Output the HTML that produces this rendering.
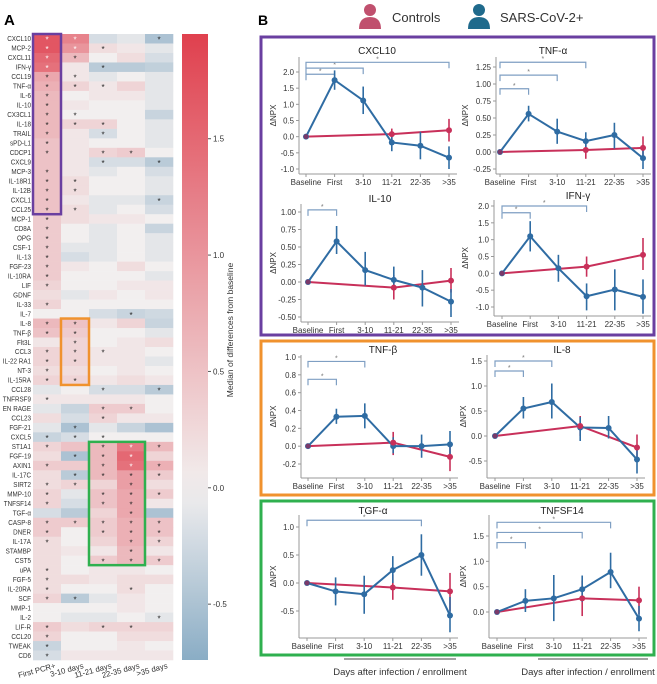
<!DOCTYPE html>
<html><head><meta charset="utf-8">
<style>
html,body{margin:0;padding:0;background:#fff;}
svg{display:block;font-family:"Liberation Sans",Arial,sans-serif;}
</style></head>
<body>
<svg id="fig" width="657" height="684" viewBox="0 0 657 684" xmlns="http://www.w3.org/2000/svg">
<text x="4" y="25" font-size="15" font-weight="bold">A</text>
<text x="258" y="25" font-size="14" font-weight="bold">B</text>
<g id="heat"></g>
<g id="cbar"></g>
<g>
  <g>
    <circle cx="370" cy="10" r="6" fill="#c0506e"/>
    <path d="M359 29 Q359 17 370 17 Q381 17 381 29 Z" fill="#c0506e"/>
    <text x="392" y="22" font-size="13" fill="#333">Controls</text>
  </g>
  <g>
    <circle cx="479" cy="10" r="6" fill="#1f6a8c"/>
    <path d="M468 29 Q468 17 479 17 Q490 17 490 29 Z" fill="#1f6a8c"/>
    <text x="500" y="22" font-size="13" fill="#333">SARS-CoV-2+</text>
  </g>
</g>
<rect x="261" y="37" width="393" height="298" fill="none" stroke="#6a3fa0" stroke-width="3"/>
<rect x="261" y="341" width="393" height="154" fill="none" stroke="#f0922e" stroke-width="3"/>
<rect x="261" y="501" width="393" height="154" fill="none" stroke="#2fb04f" stroke-width="3"/>
<g id="plots"></g>
<line x1="344" y1="659" x2="456" y2="659" stroke="#444" stroke-width="1"/>
<line x1="538" y1="659" x2="648" y2="659" stroke="#444" stroke-width="1"/>
<text x="400" y="675" font-size="9.5" text-anchor="middle" fill="#333">Days after infection / enrollment</text>
<text x="588" y="675" font-size="9.5" text-anchor="middle" fill="#333">Days after infection / enrollment</text>
</svg>
<script>
// ---------- Heatmap data ----------
const proteins = ["CXCL10","MCP-2","CXCL11","IFN-γ","CCL19","TNF-α","IL-6","IL-10","CX3CL1","IL-18","TRAIL","sPD-L1","CDCP1","CXCL9","MCP-3","IL-18R1","IL-12B","CXCL1","CCL25","MCP-1","CD8A","OPG","CSF-1","IL-13","FGF-23","IL-10RA","LIF","GDNF","IL-33","IL-7","IL-8","TNF-β","Flt3L","CCL3","IL-22 RA1","NT-3","IL-15RA","CCL28","TNFRSF9","EN RAGE","CCL23","FGF-21","CXCL5","ST1A1","FGF-19","AXIN1","IL-17C","SIRT2","MMP-10","TNFSF14","TGF-α","CASP-8","DNER","IL-17A","STAMBP","CST5","uPA","FGF-5","IL-20RA","SCF","MMP-1","IL-2","LIF-R","CCL20","TWEAK","CD6"];
const timepoints = ["First PCR+","3-10 days","11-21 days","22-35 days",">35 days"];
const medians = [
[1.7,1.2,-0.2,-0.1,-0.5],[1.7,1.0,0.2,0.1,-0.1],[1.5,0.6,0,0.2,-0.2],[1.4,0.1,-0.4,-0.4,-0.35],[0.8,0.1,-0.1,0,-0.1],
[0.7,0.3,0.1,0.3,-0.1],[0.6,0,0.1,0.1,-0.1],[0.6,0.1,0,0,-0.1],[0.6,0,0,0,-0.3],[0.6,0.3,0.3,0,-0.1],
[0.6,0.1,-0.2,0,-0.1],[0.5,0.1,0,0,-0.1],[0.5,0.1,0.3,0.4,0],[0.5,0.1,-0.2,-0.2,-0.4],[0.5,0.1,-0.1,0,-0.2],
[0.5,0.2,0,0,-0.1],[0.5,0.2,0,0,-0.1],[0.5,0.1,-0.1,-0.1,-0.3],[0.5,0.2,-0.1,0,-0.2],[0.4,0.2,0.1,0.1,0],
[0.4,0,-0.1,0,-0.3],[0.4,0,-0.1,0,-0.1],[0.4,-0.1,-0.1,0,-0.1],[0.4,-0.2,-0.1,0,-0.1],[0.4,0.1,0,0.2,0],
[0.4,0,0,0,-0.1],[0.3,0,0,0.1,0.1],[0.2,-0.1,0.1,0,0.1],[0.3,0,0,0,0],[0,0,-0.2,-0.3,-0.25],
[0.6,0.5,0.1,0.3,-0.3],[0.5,0.4,0,0,-0.1],[0.1,0.3,0,0.1,0.2],[0.3,0.3,0.1,0.1,0],[0.3,0.3,0.1,0.1,-0.1],
[0.2,0.2,0,0.1,0],[0.3,0.3,0.1,0.2,0.1],[-0.1,0,-0.2,-0.2,-0.4],[0.1,0.1,0.1,0.1,0],[-0.1,-0.3,0.4,0.4,0],
[0.2,-0.2,0.3,0.1,0.1],[-0.1,-0.5,-0.1,-0.3,-0.5],[-0.3,-0.2,0,0,0],[0.3,0.5,0.6,1.3,0.6],[0.2,-0.5,0.6,1.5,0.3],
[0.4,0.4,0.6,1.4,0.7],[0.2,-0.4,0.6,0.9,0.4],[0.2,0.3,0.3,0.9,0.2],[0.3,-0.1,0.5,0.8,0.4],[0.3,-0.2,0.5,0.8,0.1],
[-0.2,-0.4,0.3,0.8,-0.5],[0.4,0.4,0.4,0.7,0.5],[0.4,0,0.4,0.7,0.5],[0.2,0,0.3,0.7,0.3],[0.2,0.1,0.1,0.6,0.1],
[0.2,0,0.4,0.6,0.4],[0.2,0,0.1,0.1,0],[0.2,0.2,0.1,0.2,0.2],[0.2,0,0,0.2,0],[0.3,-0.4,-0.1,0.1,0],
[0,0,0,0.1,0],[0,-0.1,-0.1,0,-0.1],[0.4,0.2,0.3,0.3,0.3],[0.3,0,0,0.2,0.2],[-0.3,0,0,0.1,0],[-0.2,0.1,0.1,0.1,0.1]];
// significance: 0 none, 1 black star, 2 white star
const signif = [
[2,2,0,0,1],[2,2,1,0,0],[2,1,0,0,0],[2,0,1,0,0],[1,1,0,0,0],[1,1,1,0,0],[1,0,0,0,0],[1,0,0,0,0],[1,1,0,0,0],[1,1,1,0,0],
[1,0,1,0,0],[1,0,0,0,0],[1,0,1,1,0],[0,0,1,0,1],[1,0,0,0,0],[1,1,0,0,0],[1,1,0,0,0],[1,0,0,0,1],[1,1,0,0,0],[1,0,0,0,0],
[1,0,0,0,0],[1,0,0,0,0],[1,0,0,0,0],[1,0,0,0,0],[1,0,0,0,0],[1,0,0,0,0],[1,0,0,0,0],[0,0,0,0,0],[1,0,0,0,0],[0,0,0,1,0],
[1,1,0,0,0],[1,1,0,0,0],[0,1,0,0,0],[1,1,1,0,0],[1,1,0,0,0],[1,0,0,0,0],[1,1,0,0,0],[0,0,1,0,1],[1,0,0,0,0],[0,0,1,1,0],
[0,0,1,0,0],[0,1,0,0,0],[1,1,1,0,0],[1,0,1,2,1],[0,1,1,2,0],[1,0,1,2,1],[0,1,1,1,1],[1,1,0,1,0],[1,0,1,1,1],[1,0,1,1,0],
[0,0,0,1,0],[1,1,1,1,1],[1,0,1,1,1],[1,0,0,1,1],[0,0,0,1,0],[0,0,1,1,1],[1,0,0,0,0],[1,0,0,0,0],[1,0,0,1,0],[1,1,0,0,0],
[0,0,0,0,0],[0,0,0,0,1],[1,0,1,1,0],[1,0,0,0,0],[1,0,0,0,0],[1,0,0,0,0]];
const cbarTicks = [-0.5,0,0.5,1.0,1.5];

const NS="http://www.w3.org/2000/svg";
function mk(tag,attrs,parent){const e=document.createElementNS(NS,tag);for(const k in attrs)e.setAttribute(k,attrs[k]);parent.appendChild(e);return e;}
function lerp(a,b,t){return a.map((v,i)=>Math.round(v+(b[i]-v)*t));}
const RED=[224,64,78], MID=[242,239,239], BLUE=[138,173,197];
function color(v){
  if(v>=0){const t=Math.min(1,v/1.95);return "rgb("+lerp(MID,RED,t).join(",")+")";}
  const t=Math.min(1,-v/0.74);return "rgb("+lerp(MID,BLUE,t).join(",")+")";
}
const HX0=33,HX1=173,HY0=34,HY1=660;
const cw=(HX1-HX0)/timepoints.length, rh=(HY1-HY0)/proteins.length;
const heat=document.getElementById('heat');
proteins.forEach((p,r)=>{
  const y=HY0+r*rh;
  const lab=mk('text',{x:HX0-2,y:y+rh/2+2.5,'font-size':7,'text-anchor':'end',fill:'#333',transform:'translate('+(HX0-2)+' 0) scale(0.9 1) translate('+(-(HX0-2))+' 0)'},heat);
  lab.textContent=p;
  
  
  timepoints.forEach((tp,c)=>{
    const cell=mk('rect',{x:HX0+c*cw,y:y,width:cw+0.3,height:rh+0.3,fill:color(medians[r][c])},heat);
    
    
    const s=signif[r][c];
    if(s){
      const st=mk('text',{x:HX0+c*cw+cw/2,y:y+rh/2+4,'font-size':8,'text-anchor':'middle',fill:s===2?'#fff':'#222'},heat);
      st.textContent='*';
      
      
    }
  });
});
timepoints.forEach((tp,c)=>{
  const x=HX0+c*cw+cw/2+9, y=668;
  const t=mk('text',{x:x,y:y,'font-size':7.8,'text-anchor':'end',fill:'#333',transform:'rotate(-15 '+x+' '+y+')'},heat);
  t.textContent=tp;
  
  
});
function hbox(x0,x1,y0,y1,col,name){const b=mk('rect',{x:x0,y:y0,width:x1-x0,height:y1-y0,fill:'none',stroke:col,'stroke-width':2.5},heat);}
hbox(HX0,HX0+cw,HY0,HY0+19*rh,'#6a3fa0','heatmap-purple-box');
hbox(HX0+cw,HX0+2*cw,HY0+30*rh,HY0+37*rh,'#f0922e','heatmap-orange-box');
hbox(HX0+2*cw,HX0+4*cw,HY0+43*rh,HY0+56*rh,'#2fb04f','heatmap-green-box');
// colorbar
const cb=document.getElementById('cbar');
const defs=mk('defs',{},cb);
const lg=mk('linearGradient',{id:'cbg',x1:0,y1:0,x2:0,y2:1},defs);
const CV0=1.95, CV1=-0.74;
for(let i=0;i<=20;i++){const v=CV0+(CV1-CV0)*i/20;mk('stop',{offset:(i/20),'stop-color':color(v)},lg);}
mk('rect',{x:182,y:HY0,width:26,height:HY1-HY0,fill:'url(#cbg)'},cb);
function cby(v){return HY0+(CV0-v)/(CV0-CV1)*(HY1-HY0);}
cbarTicks.forEach(v=>{
  const y=cby(v);
  mk('line',{x1:208,x2:211,y1:y,y2:y,stroke:'#555'},cb);
  const t=mk('text',{x:213,y:y+3,'font-size':8,fill:'#333'},cb);
  t.textContent=v.toFixed(1);
  
  
});
const ct=mk('text',{x:0,y:0,'font-size':8.5,fill:'#333','text-anchor':'middle',transform:'translate(233 330) rotate(-90)'},cb);
ct.textContent='Median of differences from baseline';



// ---------- Line plot data ----------
const cats = ["Baseline","First","3-10","11-21","22-35",">35"];
const ctrlIdx = [0,3,5];
const cxcl10_sars=[0,1.75,1.12,-0.18,-0.28,-0.65], cxcl10_lo=[0,1.45,0.7,-0.45,-0.7,-1.0], cxcl10_hi=[0,2.05,1.55,0.1,0.15,-0.3];
const cxcl10_ctrl=[0,0.08,0.2], cxcl10_clo=[0,-0.15,-0.15], cxcl10_chi=[0,0.25,0.55];
const tnfa_sars=[0,0.56,0.3,0.16,0.25,-0.09], tnfa_lo=[0,0.45,0.12,0.04,0.05,-0.25], tnfa_hi=[0,0.68,0.49,0.29,0.43,0.02];
const tnfa_ctrl=[0,0.03,0.06], tnfa_clo=[0,-0.1,-0.1], tnfa_chi=[0,0.15,0.23];
const il10_sars=[0,0.58,0.17,0.03,-0.08,-0.28], il10_lo=[0,0.4,-0.05,-0.1,-0.35,-0.5], il10_hi=[0,0.8,0.43,0.22,0.17,-0.1];
const il10_ctrl=[0,-0.08,0.02], il10_clo=[0,-0.25,-0.15], il10_chi=[0,0.1,0.2];
const ifng_sars=[0,1.1,0.15,-0.68,-0.48,-0.7], ifng_lo=[0,0.65,-0.25,-1.1,-1.1,-1.2], ifng_hi=[0,1.55,0.55,-0.3,0.12,-0.18];
const ifng_ctrl=[0,0.2,0.55], ifng_clo=[0,-0.1,0.1], ifng_chi=[0,0.5,1.05];
const tnfb_sars=[0,0.33,0.34,0.0,0.0,0.02], tnfb_lo=[0,0.25,0.2,-0.08,-0.13,-0.14], tnfb_hi=[0,0.42,0.48,0.1,0.13,0.17];
const tnfb_ctrl=[0,0.04,-0.12], tnfb_clo=[0,-0.1,-0.28], tnfb_chi=[0,0.16,0.02];
const il8_sars=[0,0.55,0.68,0.17,0.16,-0.47], il8_lo=[0,0.35,0.35,-0.1,-0.05,-0.75], il8_hi=[0,0.78,1.05,0.38,0.4,-0.2];
const il8_ctrl=[0,0.2,-0.23], il8_clo=[0,0,-0.5], il8_chi=[0,0.4,0.03];
const tgfa_sars=[0,-0.15,-0.2,0.23,0.5,-0.58], tgfa_lo=[0,-0.4,-0.55,0,0.13,-0.88], tgfa_hi=[0,0.1,0.13,0.48,0.87,-0.25];
const tgfa_ctrl=[0,-0.08,-0.15], tgfa_clo=[0,-0.3,-0.5], tgfa_chi=[0,0.15,0.18];
const tnfsf14_sars=[0,0.22,0.27,0.45,0.79,-0.13], tnfsf14_lo=[0,0,-0.18,0.2,0.47,-0.38], tnfsf14_hi=[0,0.45,0.73,0.72,1.17,0.12];
const tnfsf14_ctrl=[0,0.27,0.23], tnfsf14_clo=[0,-0.08,-0.04], tnfsf14_chi=[0,0.62,0.5];

const panels=[
 {t:"CXCL10",tx:377,ty:54,ax:299,x0:306,x1:449,va:2.0,pa:72,vb:-1.0,pb:169,top:57,bot:174,ticks:[-1,-0.5,0,0.5,1,1.5,2],dec:1,yl:276,
  s:cxcl10_sars,lo:cxcl10_lo,hi:cxcl10_hi,c:cxcl10_ctrl,clo:cxcl10_clo,chi:cxcl10_chi,br:[[1,1.93],[2,2.12],[5,2.3]]},
 {t:"TNF-α",tx:553,ty:54,ax:496,x0:500,x1:643,va:1.25,pa:67,vb:-0.25,pb:169,top:57,bot:174,ticks:[-0.25,0,0.25,0.5,0.75,1,1.25],dec:2,yl:468,
  s:tnfa_sars,lo:tnfa_lo,hi:tnfa_hi,c:tnfa_ctrl,clo:tnfa_clo,chi:tnfa_chi,br:[[1,0.93],[2,1.13],[3,1.32]]},
 {t:"IL-10",tx:380,ty:202,ax:301,x0:308,x1:451,va:0,pa:282,vb:-0.5,pb:317,top:204,bot:322,ticks:[-0.5,-0.25,0,0.25,0.5,0.75,1],dec:2,yl:276,
  s:il10_sars,lo:il10_lo,hi:il10_hi,c:il10_ctrl,clo:il10_clo,chi:il10_chi,br:[[1,1.03]]},
 {t:"IFN-γ",tx:578,ty:199,ax:494,x0:502,x1:643,va:2.0,pa:206,vb:-1.0,pb:307,top:200,bot:316,ticks:[-1,-0.5,0,0.5,1,1.5,2],dec:1,yl:468,
  s:ifng_sars,lo:ifng_lo,hi:ifng_hi,c:ifng_ctrl,clo:ifng_clo,chi:ifng_chi,br:[[1,1.8],[3,2.0]]},
 {t:"TNF-β",tx:383,ty:353,ax:301,x0:308,x1:450,va:1.0,pa:357,vb:-0.2,pb:464,top:355,bot:478,ticks:[-0.2,0,0.2,0.4,0.6,0.8,1.0],dec:1,yl:276,
  s:tnfb_sars,lo:tnfb_lo,hi:tnfb_hi,c:tnfb_ctrl,clo:tnfb_clo,chi:tnfb_chi,br:[[1,0.75],[2,0.95]]},
 {t:"IL-8",tx:562,ty:353,ax:487,x0:495,x1:637,va:1.5,pa:361,vb:-0.5,pb:461,top:355,bot:478,ticks:[-0.5,0,0.5,1,1.5],dec:1,yl:466,
  s:il8_sars,lo:il8_lo,hi:il8_hi,c:il8_ctrl,clo:il8_clo,chi:il8_chi,br:[[1,1.3],[2,1.5]]},
 {t:"TGF-α",tx:373,ty:514,ax:299,x0:307,x1:450,va:0,pa:583,vb:-0.5,pb:611,top:515,bot:638,ticks:[-0.5,0,0.5,1],dec:1,yl:276,
  s:tgfa_sars,lo:tgfa_lo,hi:tgfa_hi,c:tgfa_ctrl,clo:tgfa_clo,chi:tgfa_chi,br:[[4,1.12]]},
 {t:"TNFSF14",tx:562,ty:514,ax:489,x0:497,x1:639,va:1.5,pa:536,vb:0,pb:612,top:515,bot:638,ticks:[0,0.5,1,1.5],dec:1,yl:466,
  s:tnfsf14_sars,lo:tnfsf14_lo,hi:tnfsf14_hi,c:tnfsf14_ctrl,clo:tnfsf14_clo,chi:tnfsf14_chi,br:[[1,1.37],[3,1.57],[4,1.77]]}
];
const BLU='#2f6ca3', RD='#c8305a', BRC='#7f9fc3';
const plots=document.getElementById('plots');
panels.forEach(P=>{
  const g=mk('g',{},plots);
  
  
  const xs=i=>P.x0+(P.x1-P.x0)*i/(cats.length-1);
  const ys=v=>P.pa+(v-P.va)*(P.pb-P.pa)/(P.vb-P.va);
  const tt=mk('text',{x:P.tx,y:P.ty,'font-size':10,'text-anchor':'middle',fill:'#222'},g);
  tt.textContent=P.t;
  
  
  mk('line',{x1:P.ax,x2:P.ax,y1:P.top,y2:P.bot,stroke:'#999','stroke-width':1},g);
  mk('line',{x1:P.ax,x2:P.x1+8,y1:P.bot,y2:P.bot,stroke:'#999','stroke-width':1},g);
  P.ticks.forEach(v=>{
    const y=ys(v);
    mk('line',{x1:P.ax-3,x2:P.ax,y1:y,y2:y,stroke:'#999'},g);
    const t=mk('text',{x:P.ax-5,y:y+3,'font-size':7.8,'text-anchor':'end',fill:'#333'},g);
    t.textContent=v.toFixed(P.dec);
    
    
  });
  cats.forEach((c,i)=>{
    mk('line',{x1:xs(i),x2:xs(i),y1:P.bot,y2:P.bot+3,stroke:'#999'},g);
    const t=mk('text',{x:xs(i),y:P.bot+11,'font-size':8,'text-anchor':'middle',fill:'#333'},g);
    t.textContent=c;
    
    
  });
  const ym=(P.top+P.bot)/2;
  const yl=mk('text',{x:0,y:0,'font-size':8,'text-anchor':'middle',fill:'#333',transform:'translate('+P.yl+' '+ym+') rotate(-90)'},g);
  yl.textContent='ΔNPX';
  
  
  P.br.forEach(b=>{
    const y=ys(b[1]), xa=xs(0), xb=xs(b[0]);
    const pth=mk('path',{d:'M'+xa+' '+(y+6)+' L'+xa+' '+y+' L'+xb+' '+y+' L'+xb+' '+(y+6),fill:'none',stroke:BRC,'stroke-width':1.2},g);
    
    
    const st=mk('text',{x:(xa+xb)/2,y:y-1,'font-size':7,'text-anchor':'middle',fill:'#777'},g);
    st.textContent='*';
    
    
  });
  const cp=ctrlIdx.map((ci,k)=>[xs(ci),ys(P.c[k])]);
  const cl=mk('polyline',{points:cp.map(p=>p.join(',')).join(' '),fill:'none',stroke:RD,'stroke-width':2},g);
  
  
  ctrlIdx.forEach((ci,k)=>{
    if(k>0){const e=mk('line',{x1:xs(ci),x2:xs(ci),y1:ys(P.clo[k]),y2:ys(P.chi[k]),stroke:RD,'stroke-width':1.6},g);
      }
  });
  const sp=P.s.map((v,i)=>[xs(i),ys(v)]);
  const sl=mk('polyline',{points:sp.map(p=>p.join(',')).join(' '),fill:'none',stroke:BLU,'stroke-width':2},g);
  
  
  P.s.forEach((v,i)=>{
    if(i>0){const e=mk('line',{x1:xs(i),x2:xs(i),y1:ys(P.lo[i]),y2:ys(P.hi[i]),stroke:BLU,'stroke-width':1.6},g);
      }
    const d=mk('circle',{cx:xs(i),cy:ys(v),r:3,fill:BLU},g);
    
    
  });
  ctrlIdx.forEach((ci,k)=>{
    const d=mk('circle',{cx:xs(ci),cy:ys(P.c[k]),r:k===0?2.5:3,fill:k===0?'#7a3a6a':RD},g);
    
    
  });
});
</script>
</body></html>
